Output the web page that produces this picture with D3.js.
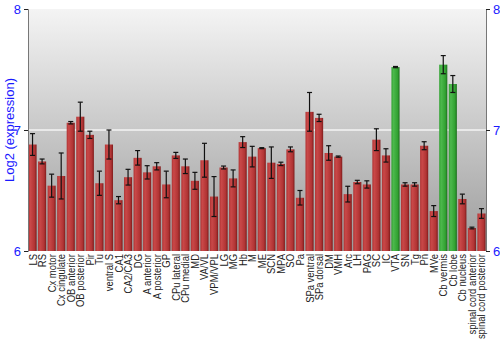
<!DOCTYPE html>
<html>
<head>
<meta charset="utf-8">
<script src="https://cdn.jsdelivr.net/npm/d3@7"></script>
<style>
  body { margin: 0; background: #fff; }
  svg { display: block; font-family: "Liberation Sans", Arial, sans-serif; }
</style>
</head>
<body>
<div id="chart"></div>
<script>
// Données
var regions = ["LS", "RS", "Cx motor", "Cx cingulate", "OB anterior", "OB posterior", "Pir", "Tu",
    "ventral S", "CA1", "CA2/CA3", "DG", "A anterior", "A posterior", "GP", "CPu lateral",
    "CPu medial", "MD", "VA/VL", "VPM/VPL", "LG", "MG", "Hb", "M", "ME", "SCN", "MPA", "SO",
    "Pa", "SPa ventral", "SPa dorsal", "DM", "VMH", "Arc", "LH", "PAG", "SC", "IC", "VTA",
    "SN", "Tg", "Pn", "MVe", "Cb vermis", "Cb lobe", "Cb nucleus", "spinal cord anterior",
    "spinal cord posterior"];

var expression = [6.88, 6.74, 6.54, 6.62, 7.06, 7.11, 6.96, 6.56,
    6.88, 6.42, 6.61, 6.77, 6.65, 6.70, 6.55, 6.79,
    6.70, 6.58, 6.75, 6.45, 6.69, 6.60, 6.90, 6.78, 6.85, 6.73, 6.72, 6.84,
    6.44, 7.15, 7.10, 6.81, 6.78, 6.47, 6.57, 6.55, 6.92, 6.79, 7.52,
    6.55, 6.55, 6.87, 6.33, 7.54, 7.38, 6.43, 6.19,
    6.31];

var errors = [0.09, 0.02, 0.095, 0.19, 0.01, 0.12, 0.03, 0.10,
    0.12, 0.03, 0.065, 0.06, 0.055, 0.03, 0.11, 0.025,
    0.06, 0.07, 0.14, 0.165, 0.012, 0.07, 0.045, 0.085, 0.004, 0.13, 0.014, 0.02,
    0.06, 0.16, 0.03, 0.06, 0.005, 0.065, 0.014, 0.03, 0.09, 0.055, 0.005,
    0.014, 0.014, 0.033, 0.045, 0.075, 0.07, 0.04, 0.007,
    0.04];

var highlighted = ["VTA", "Cb vermis", "Cb lobe"];

var yTicks = [6, 7, 8];

var width = 500,
    height = 350,
    margin = { top: 9, right: 14, bottom: 99, left: 28 };

var innerW = width - margin.left - margin.right,
    innerH = height - margin.top - margin.bottom;

var svg = d3.select("#chart")
    .append("svg")
    .attr("width", width)
    .attr("height", height);

var defs = svg.append("defs");

var bg = defs.append("linearGradient")
    .attr("id", "bg")
    .attr("x1", 0).attr("y1", 0).attr("x2", 0).attr("y2", 1);
bg.append("stop").attr("offset", "0%").attr("stop-color", "#f4f4f4");
bg.append("stop").attr("offset", "100%").attr("stop-color", "#9c9c9c");

function barGradient(id, light, mid, dark) {
    var g = defs.append("linearGradient")
        .attr("id", id)
        .attr("x1", 0).attr("y1", 0).attr("x2", 1).attr("y2", 0);
    g.append("stop").attr("offset", "0%").attr("stop-color", mid);
    g.append("stop").attr("offset", "25%").attr("stop-color", light);
    g.append("stop").attr("offset", "75%").attr("stop-color", mid);
    g.append("stop").attr("offset", "100%").attr("stop-color", dark);
}
barGradient("red", "#c94848", "#b13434", "#7f1c1c");
barGradient("green", "#4cb84c", "#32a232", "#1d6e1d");

var g = svg.append("g")
    .attr("transform", "translate(" + margin.left + "," + margin.top + ")");

var x = d3.scaleBand()
    .domain(regions)
    .range([0, innerW])
    .paddingInner(0.15)
    .paddingOuter(0.05);

var y = d3.scaleLinear()
    .domain([6, 8])
    .range([innerH, 0]);

g.append("rect")
    .attr("width", innerW)
    .attr("height", innerH)
    .attr("fill", "url(#bg)");

// ligne blanche à 7
g.append("line")
    .attr("x1", 0).attr("x2", innerW)
    .attr("y1", y(7)).attr("y2", y(7))
    .attr("stroke", "#f4f4f4")
    .attr("stroke-width", 1.5);

var data = regions.map(function(r, i) {
    return { key: r, value: expression[i], err: errors[i] };
});

g.selectAll(".bar")
    .data(data)
    .enter()
    .append("rect")
    .attr("class", "bar")
    .attr("x", d => x(d.key))
    .attr("y", d => y(d.value))
    .attr("width", x.bandwidth())
    .attr("height", d => y(6) - y(d.value))
    .attr("fill", d => highlighted.includes(d.key) ? "url(#green)" : "url(#red)");

// barres d'erreur
var errG = g.selectAll(".err")
    .data(data)
    .enter()
    .append("g")
    .attr("class", "err")
    .attr("stroke", "#111")
    .attr("stroke-width", 1.2);

errG.append("line")
    .attr("x1", d => x(d.key) + x.bandwidth() / 2)
    .attr("x2", d => x(d.key) + x.bandwidth() / 2)
    .attr("y1", d => y(d.value + d.err))
    .attr("y2", d => y(d.value - d.err));

errG.append("line")
    .attr("x1", d => x(d.key) + x.bandwidth() / 2 - 2.5)
    .attr("x2", d => x(d.key) + x.bandwidth() / 2 + 2.5)
    .attr("y1", d => y(d.value + d.err))
    .attr("y2", d => y(d.value + d.err));

errG.append("line")
    .attr("x1", d => x(d.key) + x.bandwidth() / 2 - 2.5)
    .attr("x2", d => x(d.key) + x.bandwidth() / 2 + 2.5)
    .attr("y1", d => y(d.value - d.err))
    .attr("y2", d => y(d.value - d.err));

// axes
var leftAxis = g.append("g")
    .call(d3.axisLeft(y).tickValues(yTicks).tickSize(4).tickFormat(d3.format("d")));
var rightAxis = g.append("g")
    .attr("transform", "translate(" + innerW + ",0)")
    .call(d3.axisRight(y).tickValues(yTicks).tickSize(4).tickFormat(d3.format("d")));

[leftAxis, rightAxis].forEach(function(a) {
    a.select(".domain").attr("stroke", "#777");
    a.selectAll(".tick line").attr("stroke", "#222");
    a.selectAll(".tick text")
        .attr("fill", "#1a1aff")
        .style("font-size", "13px")
        .style("font-family", "Liberation Sans, Arial, sans-serif");
});

// étiquettes des régions (police un peu condensée comme l'original)
g.append("g")
    .selectAll("text")
    .data(regions)
    .enter()
    .append("text")
    .attr("transform", d => "translate(" + (x(d) + x.bandwidth() / 2 + 4) + "," + (innerH + 3) + ") rotate(-90) scale(0.86,1)")
    .style("text-anchor", "end")
    .style("font-size", "11px")
    .attr("fill", "#222")
    .text(d => d);

svg.append("text")
    .attr("transform", "translate(14," + (margin.top + innerH / 2) + ") rotate(-90)")
    .style("text-anchor", "middle")
    .style("font-size", "13px")
    .attr("fill", "#1a1aff")
    .text("Log2 (expression)");
</script>
</body>
</html>
